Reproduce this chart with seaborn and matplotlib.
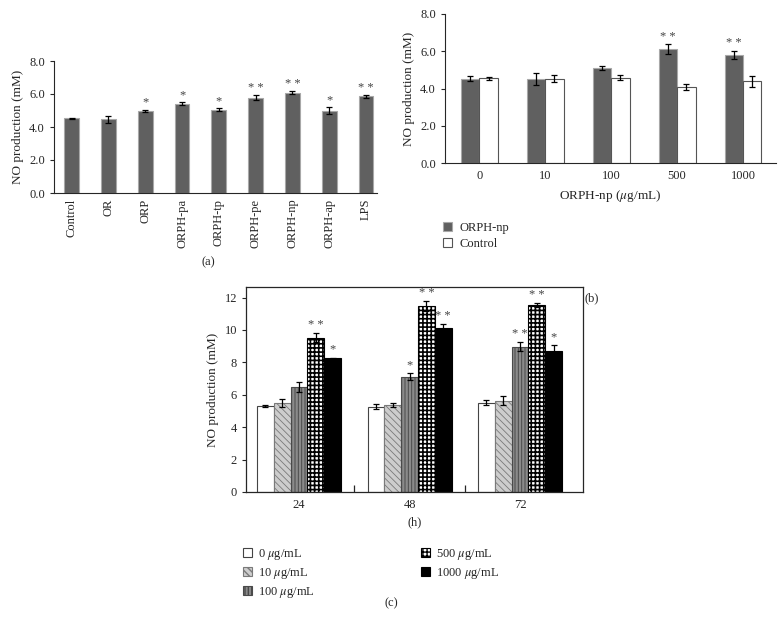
import numpy as np
import pandas as pd
import matplotlib
matplotlib.use('Agg')
import matplotlib.pyplot as plt
import seaborn as sns

sns.set_style('ticks')
plt.rcParams['font.family'] = ['Liberation Serif', 'DejaVu Serif']
plt.rcParams['mathtext.fontset'] = 'stix'
plt.rcParams['hatch.linewidth'] = 1.0

# (a) разные фракции
a_groups = ['Control', 'OR', 'ORP', 'ORPH-pa', 'ORPH-tp', 'ORPH-pe', 'ORPH-np', 'ORPH-ap', 'LPS']
a_vals = [4.52, 4.46, 4.98, 5.42, 5.06, 5.76, 6.09, 5.0, 5.86]
a_err = [0.04, 0.2, 0.05, 0.08, 0.08, 0.15, 0.07, 0.2, 0.08]
a_stars = ['', '', '*', '*', '*', '* *', '* *', '*', '* *']

# (b) доза ORPH-np
b_doses = ['0', '10', '100', '500', '1000']
b_series = ['ORPH-np', 'Control']
b_np = [4.53, 4.5, 5.09, 6.12, 5.8]
b_np_err = [0.14, 0.31, 0.11, 0.25, 0.24]
b_ctrl = [4.55, 4.52, 4.59, 4.07, 4.39]
b_ctrl_err = [0.07, 0.18, 0.14, 0.16, 0.29]
b_np_stars = ['', '', '', '* *', '* *']

# (c) время
c_hours = ['24', '48', '72']
c_levels = ['0 $\\mu$g/mL', '10 $\\mu$g/mL', '100 $\\mu$g/mL', '500 $\\mu$g/mL', '1000 $\\mu$g/mL']
c_vals = [[5.31, 5.27, 5.52],
          [5.48, 5.37, 5.64],
          [6.46, 7.12, 8.96],
          [9.52, 11.49, 11.53],
          [8.25, 10.09, 8.72]]
c_err = [[0.05, 0.14, 0.17],
         [0.25, 0.14, 0.26],
         [0.3, 0.2, 0.28],
         [0.29, 0.31, 0.14],
         [0.04, 0.25, 0.34]]
c_stars = [['', '', ''],
           ['', '', ''],
           ['', '*', '* *'],
           ['* *', '* *', '* *'],
           ['*', '* *', '*']]

W, H = 784, 630
fig = plt.figure(figsize=(W / 100, H / 100), dpi=100)


def box(l, t, r, b):
    return [l / W, 1 - b / H, (r - l) / W, (b - t) / H]


def add_err(ax, bars, vals, errs, stars=None):
    xs = [p.get_x() + p.get_width() / 2 for p in bars]
    ax.errorbar(xs, vals, yerr=errs, fmt='none', ecolor='black', elinewidth=0.9,
                capsize=2.5, capthick=0.9, zorder=5)
    if stars is not None:
        for x, v, e, s in zip(xs, vals, errs, stars):
            if s:
                ax.text(x, v + e + 0.01 * ax.get_ylim()[1], s, ha='center', va='bottom',
                        fontsize=9, color='#444444')


tick_fs = 9
lab_fs = 9.5

# ---------- (a)
ax_a = fig.add_axes(box(54, 61, 377, 193))
df_a = pd.DataFrame({'group': a_groups, 'val': a_vals})
sns.barplot(data=df_a, x='group', y='val', color='#606060', width=0.4, errorbar=None,
            edgecolor='#a8a8a8', linewidth=0.8, saturation=1, ax=ax_a)
ax_a.set_ylim(0, 8)
ax_a.set_xlim(-0.48, 8.3)
ax_a.set_yticks([0, 2, 4, 6, 8])
ax_a.set_yticklabels(['%.1f' % t for t in [0, 2, 4, 6, 8]])
add_err(ax_a, list(ax_a.containers[0]), a_vals, a_err, a_stars)
ax_a.set_xlabel('')
ax_a.set_ylabel('NO production (mM)', fontsize=lab_fs)
ax_a.tick_params(axis='x', length=0, rotation=90, labelsize=tick_fs, pad=4)
ax_a.tick_params(axis='y', length=3, labelsize=tick_fs)
sns.despine(ax=ax_a)

# ---------- (b)
ax_b = fig.add_axes(box(445, 14, 776, 163))
df_b = pd.DataFrame({'dose': b_doses * 2,
                     'series': [b_series[0]] * 5 + [b_series[1]] * 5,
                     'val': b_np + b_ctrl})
sns.barplot(data=df_b, x='dose', y='val', hue='series', hue_order=b_series,
            palette=['#606060', 'white'], width=0.56, errorbar=None, saturation=1,
            edgecolor='#555555', linewidth=0.8, ax=ax_b)
b_bars = [list(c) for c in ax_b.containers[:2]]
for p in b_bars[0]:
    p.set_edgecolor('#a8a8a8')
ax_b.set_ylim(0, 8)
ax_b.set_xlim(-0.52, 4.5)
ax_b.set_yticks([0, 2, 4, 6, 8])
ax_b.set_yticklabels(['%.1f' % t for t in [0, 2, 4, 6, 8]])
add_err(ax_b, b_bars[0], b_np, b_np_err, b_np_stars)
add_err(ax_b, b_bars[1], b_ctrl, b_ctrl_err)
ax_b.set_xlabel('ORPH-np ($\\mu$g/mL)', fontsize=lab_fs)
ax_b.set_ylabel('NO production (mM)', fontsize=lab_fs)
ax_b.tick_params(axis='x', length=0, labelsize=tick_fs, pad=5)
ax_b.tick_params(axis='y', length=3, labelsize=tick_fs)
sns.despine(ax=ax_b)
ax_b.legend([b_bars[0][0], b_bars[1][0]], b_series, loc='upper left',
            bbox_to_anchor=(443 / W, 1 - 222 / H),
            bbox_transform=fig.transFigure, frameon=False, fontsize=tick_fs,
            handlelength=0.7, handleheight=0.7, handletextpad=0.6, labelspacing=0.3,
            borderpad=0, borderaxespad=0)

# ---------- (c)
ax_c = fig.add_axes(box(246, 287, 583, 492))
rows = []
for lvl, vals in zip(c_levels, c_vals):
    for h, v in zip(c_hours, vals):
        rows.append({'hour': h, 'level': lvl, 'val': v})
df_c = pd.DataFrame(rows)
sns.barplot(data=df_c, x='hour', y='val', hue='level', hue_order=c_levels,
            palette=['white', '#cdcdcd', '#8a8a8a', 'white', 'black'], width=0.76,
            errorbar=None, saturation=1, linewidth=0.8, edgecolor='#333333', ax=ax_c)
c_bars = [list(c) for c in ax_c.containers[:5]]
# штриховка: (узор, цвет, толщина линий)
c_style = [(None, '#444444', 1.0), ('\\\\\\\\\\', '#7a7a7a', 0.6), ('|||||', '#4a4a4a', 0.7),
           ('++++', 'black', 1.2), (None, 'black', 1.0)]
for bars, (hatch, ec, hlw) in zip(c_bars, c_style):
    for p in bars:
        p.set_edgecolor(ec)
        if hatch:
            p.set_hatch(hatch)
            if hasattr(p, 'set_hatch_linewidth'):
                p.set_hatch_linewidth(hlw)
for bars, vals, errs, st in zip(c_bars, c_vals, c_err, c_stars):
    add_err(ax_c, bars, vals, errs, st)
ax_c.set_ylim(0, 12.65)
ax_c.set_xlim(-0.48, 2.57)
ax_c.set_yticks([0, 2, 4, 6, 8, 10, 12])
ax_c.set_xticks([0.5, 1.5], minor=True)
ax_c.tick_params(axis='x', which='major', length=0, labelsize=tick_fs, pad=5)
ax_c.tick_params(axis='x', which='minor', direction='in', length=5, width=0.9)
ax_c.tick_params(axis='y', length=3, labelsize=tick_fs)
ax_c.set_xlabel('(h)', fontsize=tick_fs)
ax_c.set_ylabel('NO production (mM)', fontsize=lab_fs)
for s in ax_c.spines.values():
    s.set_linewidth(0.9)
ax_c.legend([b[0] for b in c_bars], c_levels, ncol=2, loc='upper left',
            bbox_to_anchor=(243 / W, 1 - 547 / H),
            bbox_transform=fig.transFigure, frameon=False, fontsize=tick_fs,
            handlelength=0.7, handleheight=0.7, handletextpad=0.5, labelspacing=0.3,
            columnspacing=8.5, borderpad=0, borderaxespad=0)

# подписи панелей
fig.text(208 / W, 1 - 262 / H, '(a)', ha='center', va='center', fontsize=tick_fs)
fig.text(592 / W, 1 - 298 / H, '(b)', ha='center', va='center', fontsize=tick_fs)
fig.text(391 / W, 1 - 603 / H, '(c)', ha='center', va='center', fontsize=tick_fs)

fig.savefig('out.png', dpi=100)
